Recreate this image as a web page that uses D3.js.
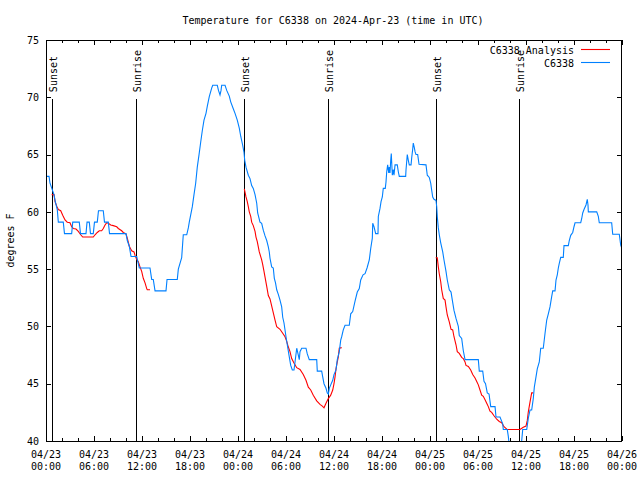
<!DOCTYPE html>
<html>
<head>
<meta charset="utf-8">
<script src="https://cdn.jsdelivr.net/npm/d3@7"></script>
<style>
  html, body { margin: 0; padding: 0; background: #ffffff; }
  svg { display: block; }
  text { font-family: "DejaVu Sans Mono", "Liberation Mono", monospace; font-size: 10px; fill: #000; }
</style>
</head>
<body>
<svg id="chart" width="640" height="480"></svg>
<script>
// ---------------- DATA ----------------
const chartTitle = "Temperature for C6338 on 2024-Apr-23 (time in UTC)";
const yAxisLabel = "degrees F";
const seriesNames = ["C6338 Analysis", "C6338"];

// hours since 2024-04-23 00:00 UTC
const stationHours = [0.00,0.38,0.50,0.75,1.00,1.16,1.41,1.54,2.16,2.31,3.21,3.34,4.16,4.31,5.00,5.13,5.41,5.56,5.91,6.06,6.41,6.56,7.16,7.31,7.79,7.94,10.00,10.16,10.41,10.63,11.34,11.50,11.66,13.00,13.21,13.41,13.63,15.00,15.13,16.41,16.54,16.96,17.16,17.59,17.79,17.91,18.29,18.50,18.71,18.91,19.13,19.34,19.54,19.75,20.00,20.16,20.41,20.71,20.84,21.41,21.56,21.75,21.88,21.96,22.38,22.59,22.91,23.09,23.41,23.63,23.91,24.16,24.34,24.59,24.75,24.84,25.00,25.29,25.50,25.71,25.91,26.13,26.34,26.46,26.75,26.96,27.16,27.38,27.59,27.79,27.91,28.00,28.21,28.41,28.54,28.69,28.84,29.04,29.25,29.46,29.59,29.75,30.00,30.16,30.41,30.59,30.79,31.00,31.13,31.34,31.54,31.66,31.75,31.96,32.50,32.66,32.91,33.84,33.91,34.46,34.59,34.75,35.00,35.16,35.29,35.41,35.59,35.84,36.00,36.25,36.41,36.66,36.84,36.96,37.16,37.38,37.91,38.09,38.34,38.63,38.91,39.16,39.34,39.63,39.88,40.13,40.41,40.59,40.79,40.84,41.00,41.21,41.50,41.54,41.75,41.88,42.04,42.16,42.41,42.50,42.59,42.71,42.84,42.91,43.00,43.09,43.16,43.29,43.41,43.50,43.63,43.91,44.04,44.16,44.96,45.00,45.16,45.29,45.41,45.63,45.71,45.84,45.91,46.04,46.13,46.25,46.46,46.63,47.50,47.66,47.91,48.09,48.21,48.34,48.50,48.75,48.84,48.91,49.04,49.16,49.34,49.59,49.75,50.00,50.16,50.41,50.63,50.79,51.00,51.25,51.54,51.66,51.96,52.16,52.38,54.04,54.16,54.59,54.75,54.94,55.16,55.38,55.59,56.13,56.25,56.75,57.09,57.16,57.66,57.79,57.91,58.13,59.25,59.46,59.59,60.09,60.29,60.50,60.71,60.91,61.04,61.25,61.41,61.66,61.84,62.16,62.38,62.59,62.79,63.00,63.21,63.34,63.63,63.75,63.91,64.04,64.16,64.34,64.66,64.75,65.29,65.41,65.59,65.84,66.00,66.13,66.84,66.96,67.09,67.25,67.50,67.66,67.75,67.79,68.84,69.04,69.16,70.71,70.84,71.66,71.84,71.94];
const stationTemps = [63.1,63.1,62.5,62.0,61.5,60.9,60.2,59.1,59.1,58.1,58.1,59.1,59.1,58.1,58.1,59.1,59.1,58.1,58.1,59.1,59.1,60.1,60.1,59.1,59.1,58.1,58.1,57.5,57.0,56.1,56.1,55.6,55.1,55.1,54.1,54.1,53.1,53.1,54.1,54.1,55.0,56.0,58.0,58.0,58.6,59.1,60.45,61.5,62.5,63.9,65.0,66.1,67.1,68.0,68.6,69.2,70.05,70.8,71.05,71.05,70.6,70.2,70.6,71.05,71.05,70.6,70.1,69.6,69.0,68.6,68.0,67.3,66.6,65.8,65.2,64.5,63.9,63.2,62.9,62.3,62.05,61.5,60.75,59.9,59.1,59.0,58.4,57.9,57.5,56.95,56.5,55.95,55.2,55.1,54.2,53.8,53.2,52.8,52.3,51.7,50.8,50.3,49.1,48.4,47.35,46.6,46.2,46.2,46.9,48.1,47.5,47.1,47.8,48.1,48.1,47.6,47.1,47.1,46.1,46.1,45.6,45.0,44.6,44.2,44.1,44.6,44.9,45.3,45.8,46.2,47.1,47.8,48.8,49.1,49.7,50.1,50.1,51.1,51.3,52.2,53.0,53.3,54.05,54.5,54.6,55.1,55.8,56.8,57.7,59.0,58.7,58.1,58.1,59.6,60.3,60.9,61.3,62.05,62.05,62.6,63.5,64.1,63.4,63.9,63.4,64.5,65.1,63.2,63.7,63.2,64.1,64.1,63.5,63.1,63.1,63.65,65.0,64.5,64.1,64.1,64.7,65.5,66.0,65.6,65.25,65.0,65.0,64.15,64.1,63.2,63.0,62.5,61.9,61.3,61.1,61.0,60.45,59.6,58.6,58.0,57.3,56.5,55.8,54.8,54.05,53.2,53.0,52.3,51.4,50.7,50.0,49.2,48.95,47.9,47.1,47.1,46.1,46.1,45.2,45.0,44.2,44.1,43.0,43.0,42.1,42.1,41.5,41.0,41.0,40.4,39.6,39.0,39.0,40.0,41.0,41.0,42.0,42.7,42.7,43.7,44.7,45.6,46.3,46.9,48.1,48.1,49.4,50.56,51.1,51.7,52.6,53.1,53.1,54.05,54.5,55.1,55.5,56.03,56.03,57.05,57.05,57.5,57.95,58.2,58.7,59.05,59.05,59.4,59.9,60.2,60.6,61.1,60.6,60.0,60.0,59.6,59.05,59.05,58.05,58.05,57.1,56.9];

// analysis segments (sunset to shortly after sunrise)
const analysis1Hours = [0.71,1.00,1.13,1.34,1.54,1.84,2.09,2.38,2.66,3.00,3.21,3.41,3.75,4.04,4.34,4.59,5.91,6.13,6.41,6.66,6.96,7.16,7.38,7.59,7.79,8.09,8.41,8.84,9.04,9.46,9.66,10.00,10.16,10.41,10.71,11.00,11.13,11.34,11.54,11.75,11.96,12.16,12.38,12.59,12.66,13.00];
const analysis1Temps = [61.5,61.5,60.9,60.5,60.2,60.1,59.7,59.3,59.1,59.05,58.7,58.55,58.5,58.3,58.0,57.8,57.8,58.0,58.2,58.35,58.35,58.55,58.85,59.05,59.0,58.85,58.8,58.7,58.55,58.35,58.2,58.07,57.7,57.0,56.6,56.5,56.2,55.85,55.65,55.2,54.8,54.2,53.8,53.3,53.2,53.2];
const analysis2Hours = [24.79,25.00,25.16,25.29,25.41,25.59,25.71,25.91,26.13,26.25,26.41,26.54,26.66,26.84,26.96,27.09,27.25,27.38,27.59,27.79,28.00,28.34,28.63,28.84,29.25,29.59,29.88,30.09,30.29,30.50,30.71,31.00,31.34,31.75,32.16,32.50,32.79,33.09,33.41,33.84,34.25,34.54,34.75,35.00,35.29,35.59,35.84,36.00,36.13,36.25,36.41,36.54,36.66,36.96];
const analysis2Temps = [62.0,61.3,60.9,60.45,60.0,59.6,59.1,58.8,58.3,57.8,57.4,56.95,56.5,56.1,55.8,55.4,54.8,54.3,53.5,52.7,52.4,51.4,50.56,49.97,49.75,49.4,49.1,48.7,48.2,47.8,47.2,46.8,46.4,46.25,45.8,45.3,44.7,44.45,44.0,43.5,43.2,43.05,42.9,43.3,43.7,44.0,44.45,45.0,45.6,46.3,46.9,47.35,48.1,48.15];
const analysis3Hours = [48.71,48.91,49.04,49.16,49.34,49.46,49.66,49.88,50.00,50.16,50.41,50.63,50.84,51.00,51.25,51.41,51.66,51.96,52.16,52.38,52.50,52.79,53.09,53.34,53.63,53.84,54.04,54.25,54.46,54.66,54.88,55.09,55.29,55.50,55.71,56.00,56.34,56.66,56.96,57.25,57.66,59.25,59.66,60.00,60.16,60.29,60.50,60.71,60.91];
const analysis3Temps = [56.0,56.0,55.2,54.6,53.9,53.2,52.45,52.3,51.7,51.0,50.4,49.75,49.7,49.1,48.4,47.8,47.65,47.3,47.2,46.9,46.6,46.5,46.2,45.8,45.5,45.2,44.9,44.45,44.0,43.9,43.6,43.3,43.0,42.6,42.5,42.2,41.9,41.7,41.6,41.25,41.0,41.0,41.2,41.3,41.8,42.55,43.4,44.2,44.2];

const sunEventHours = [0.79, 11.25, 24.79, 35.29, 48.79, 59.17];
const sunEventLabels = ["Sunset", "Sunrise", "Sunset", "Sunrise", "Sunset", "Sunrise"];

const xTickHours = [0, 6, 12, 18, 24, 30, 36, 42, 48, 54, 60, 66, 72];
const xTickDateLabels = ["04/23","04/23","04/23","04/23","04/24","04/24","04/24","04/24","04/25","04/25","04/25","04/25","04/26"];
const xTickTimeLabels = ["00:00","06:00","12:00","18:00","00:00","06:00","12:00","18:00","00:00","06:00","12:00","18:00","00:00"];
const xMinorTickHours = [2,4,8,10,14,16,20,22,26,28,32,34,38,40,44,46,50,52,56,58,62,64,68,70];
const yTickValues = [40, 45, 50, 55, 60, 65, 70, 75];

// ---------------- LAYOUT ----------------
const W = 640, H = 480;
const M = { left: 46, right: 622, top: 40, bottom: 441 };
const t0 = Date.UTC(2024, 3, 23, 0, 0, 0);
const toDate = h => new Date(t0 + h * 3600 * 1000);

const svg = d3.select("#chart");
svg.append("rect").attr("width", W).attr("height", H).attr("fill", "#fff");

const x = d3.scaleUtc().domain([toDate(0), toDate(72)]).range([M.left, M.right]);
const y = d3.scaleLinear().domain([40, 75]).range([M.bottom, M.top]);

svg.append("defs").append("clipPath").attr("id", "plotclip")
  .append("rect").attr("x", M.left).attr("y", M.top)
  .attr("width", M.right - M.left).attr("height", M.bottom - M.top);

function styleAxis(g) {
  g.attr("font-family", null).attr("font-size", null);
  g.select(".domain").remove();
  g.selectAll(".tick line").attr("stroke", "#000").attr("shape-rendering", "crispEdges");
}

// bottom axis major + minor
svg.append("g").attr("transform", `translate(0,${M.bottom})`)
  .call(d3.axisBottom(x).tickValues(xTickHours.map(toDate)).tickSizeInner(-5).tickSizeOuter(0).tickFormat(""))
  .call(styleAxis);
svg.append("g").attr("transform", `translate(0,${M.bottom})`)
  .call(d3.axisBottom(x).tickValues(xMinorTickHours.map(toDate)).tickSizeInner(-3).tickSizeOuter(0).tickFormat(""))
  .call(styleAxis);
// top axis mirror
svg.append("g").attr("transform", `translate(0,${M.top})`)
  .call(d3.axisTop(x).tickValues(xTickHours.map(toDate)).tickSizeInner(-5).tickSizeOuter(0).tickFormat(""))
  .call(styleAxis);
svg.append("g").attr("transform", `translate(0,${M.top})`)
  .call(d3.axisTop(x).tickValues(xMinorTickHours.map(toDate)).tickSizeInner(-3).tickSizeOuter(0).tickFormat(""))
  .call(styleAxis);
// left axis
svg.append("g").attr("transform", `translate(${M.left},0)`)
  .call(d3.axisLeft(y).tickValues(yTickValues).tickSizeInner(-5).tickSizeOuter(0).tickPadding(7))
  .call(styleAxis);
// right axis mirror
svg.append("g").attr("transform", `translate(${M.right},0)`)
  .call(d3.axisRight(y).tickValues(yTickValues).tickSizeInner(-5).tickSizeOuter(0).tickFormat(""))
  .call(styleAxis);

// x tick labels, two lines
const xl = svg.append("g");
xTickHours.forEach((h, i) => {
  const t = xl.append("text").attr("text-anchor", "middle")
    .attr("x", x(toDate(h)));
  t.append("tspan").attr("x", x(toDate(h))).attr("y", M.bottom + 17).text(xTickDateLabels[i]);
  t.append("tspan").attr("x", x(toDate(h))).attr("y", M.bottom + 29).text(xTickTimeLabels[i]);
});

// sunrise / sunset markers
const plotH = M.bottom - M.top;
const ev = svg.append("g");
sunEventHours.forEach((h, i) => {
  const xp = Math.round(x(toDate(h))) + 0.5;
  ev.append("line").attr("x1", xp).attr("x2", xp)
    .attr("y1", M.bottom).attr("y2", M.top + 0.147 * plotH)
    .attr("stroke", "#000").attr("stroke-width", 1).attr("shape-rendering", "crispEdges");
  ev.append("text").attr("transform", `translate(${xp + 4},${M.top + 0.13 * plotH}) rotate(-90)`)
    .attr("text-anchor", "start").text(sunEventLabels[i]);
});

// data lines
const line = d3.line().x(d => x(toDate(d[0]))).y(d => y(d[1]));
const dataG = svg.append("g").attr("clip-path", "url(#plotclip)");
const red = "#ff0000", blue = "#0080ff";
[[analysis1Hours, analysis1Temps], [analysis2Hours, analysis2Temps], [analysis3Hours, analysis3Temps]]
  .forEach(([hs, ts]) => {
    dataG.append("path").datum(d3.zip(hs, ts)).attr("d", line)
      .attr("fill", "none").attr("stroke", red).attr("stroke-width", 1.1).attr("stroke-linejoin", "miter");
  });
dataG.append("path").datum(d3.zip(stationHours, stationTemps)).attr("d", line)
  .attr("fill", "none").attr("stroke", blue).attr("stroke-width", 1.1).attr("stroke-linejoin", "miter");

// frame
svg.append("rect").attr("x", M.left + 0.5).attr("y", M.top + 0.5)
  .attr("width", M.right - M.left - 1).attr("height", M.bottom - M.top)
  .attr("fill", "none").attr("stroke", "#000").attr("shape-rendering", "crispEdges");

// title
svg.append("text").attr("x", 333).attr("y", 24).attr("text-anchor", "middle").text(chartTitle);
// y label
svg.append("text").attr("transform", `translate(14,${(M.top + M.bottom) / 2}) rotate(-90)`)
  .attr("text-anchor", "middle").text(yAxisLabel);

// legend
const lg = svg.append("g");
[[seriesNames[0], red, 49.5], [seriesNames[1], blue, 62.5]].forEach(([name, c, ly]) => {
  lg.append("text").attr("x", 574).attr("y", ly + 4).attr("text-anchor", "end").text(name);
  lg.append("line").attr("x1", 581).attr("x2", 610).attr("y1", ly).attr("y2", ly)
    .attr("stroke", c).attr("stroke-width", 1.1);
});
</script>
</body>
</html>
